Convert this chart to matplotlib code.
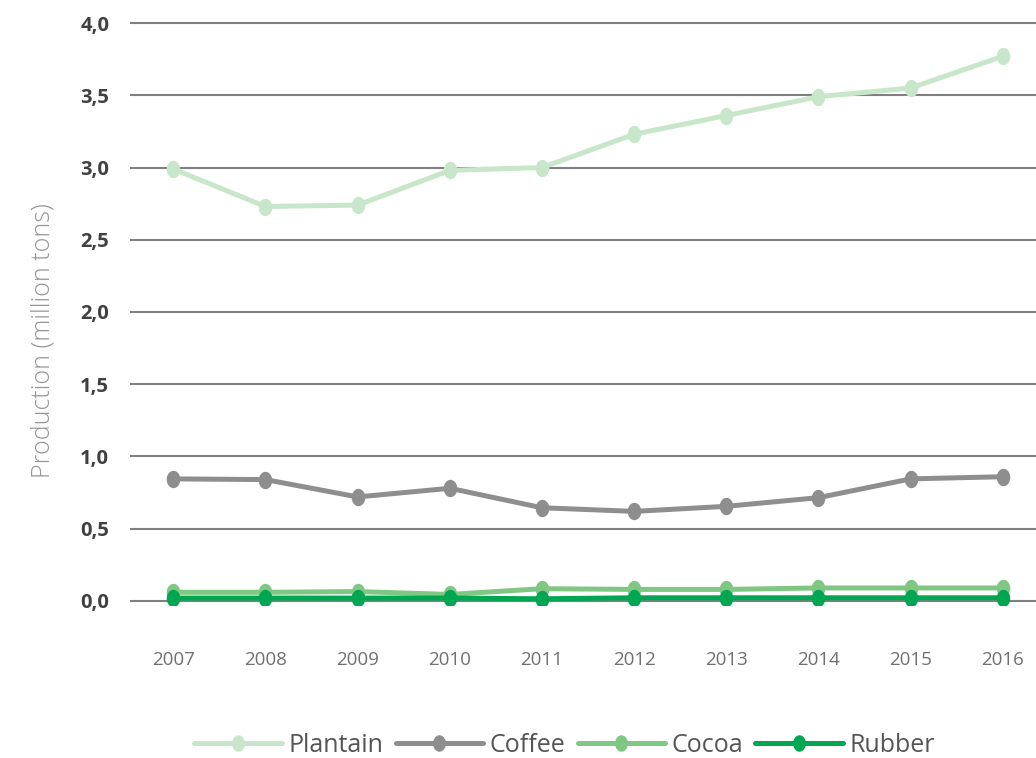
import numpy as np
import matplotlib
matplotlib.use("Agg")
from matplotlib import pyplot as plt
from matplotlib.path import Path
from matplotlib.ticker import FuncFormatter

years = ["2007", "2008", "2009", "2010", "2011", "2012", "2013", "2014", "2015", "2016"]
plantain = [2.99, 2.73, 2.74, 2.98, 3.00, 3.23, 3.36, 3.49, 3.55, 3.77]
coffee = [0.845, 0.84, 0.72, 0.78, 0.645, 0.62, 0.655, 0.715, 0.845, 0.86]
cocoa = [0.06, 0.06, 0.065, 0.045, 0.085, 0.08, 0.08, 0.09, 0.09, 0.09]
rubber = [0.02, 0.02, 0.02, 0.02, 0.015, 0.022, 0.022, 0.022, 0.022, 0.022]

series = [
    ("Plantain", plantain, "#c8e6c9"),
    ("Coffee", coffee, "#8e8e8e"),
    ("Cocoa", cocoa, "#81c784"),
    ("Rubber", rubber, "#00a651"),
]

plt.rcParams["font.family"] = ["Open Sans", "DejaVu Sans"]

# slightly tall ellipse used as the point marker
t = np.linspace(0, 2 * np.pi, 60)
ellipse = Path(np.column_stack([0.78 * np.cos(t), np.sin(t)]), closed=True)

fig = plt.figure(figsize=(10.36, 7.58), dpi=100)
ax = fig.add_axes([130 / 1036, (758 - 605.3) / 758, 906 / 1036, 586.6 / 758])

x = np.arange(len(years))
for name, vals, col in series:
    ax.plot(x, vals, color=col, lw=3.6, marker=ellipse, markersize=12.5,
            markeredgewidth=0, label=name, solid_capstyle="round", zorder=3)

ax.set_xlim(-0.47, 9.36)
ax.set_ylim(-0.03, 4.03)
ax.set_yticks(np.arange(0, 4.01, 0.5))
ax.yaxis.set_major_formatter(FuncFormatter(lambda v, p: f"{v:.1f}".replace(".", ",")))
ax.set_xticks(x)
ax.set_xticklabels(years)

ax.grid(axis="y", color="#808080", lw=1.5)
ax.set_axisbelow(True)
for s in ax.spines.values():
    s.set_visible(False)
ax.tick_params(axis="both", length=0)
ax.tick_params(axis="y", pad=15, labelsize=14.5, labelcolor="#404040")
ax.tick_params(axis="x", pad=33, labelsize=13.5, labelcolor="#707070")
for lbl in ax.get_yticklabels():
    lbl.set_fontweight("bold")

ax.set_ylabel("Production (million tons)", fontsize=18, color="#959595", fontweight="light")
ax.yaxis.set_label_coords(-0.0825, 0.452)

fig.legend(loc="center", bbox_to_anchor=(0.545, 0.017), ncol=4, frameon=False,
           fontsize=18, handlelength=3.5, handletextpad=0.25, columnspacing=0.5,
           labelcolor="#555555", markerscale=0.95)

fig.savefig("out.png", dpi=100)
